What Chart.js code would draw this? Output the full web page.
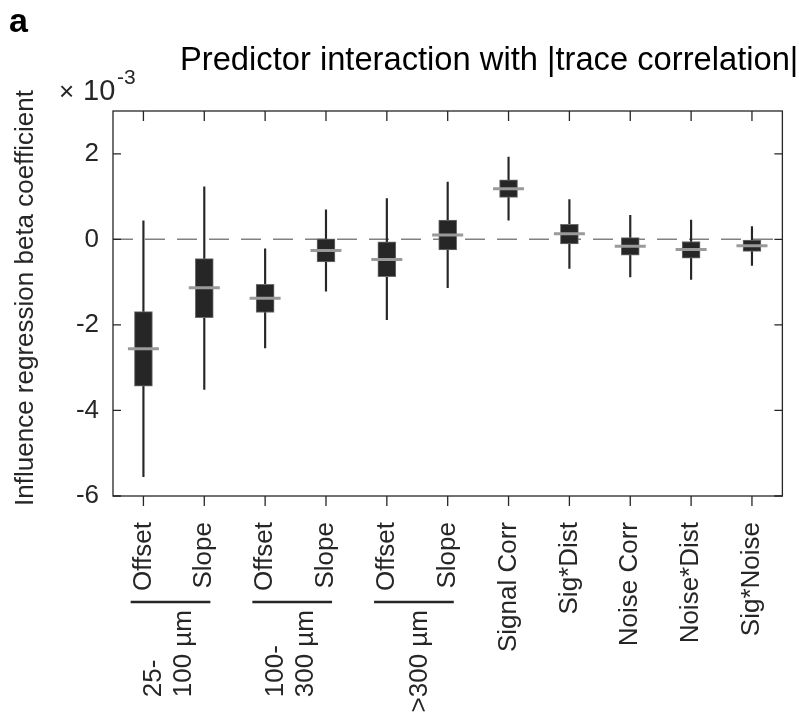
<!DOCTYPE html>
<html>
<head>
<meta charset="utf-8">
<script src="https://cdn.jsdelivr.net/npm/chart.js@4.4.1/dist/chart.umd.min.js"></script>
<style>
  html, body { margin: 0; padding: 0; background: #fff; overflow: hidden; }
  #wrap { width: 810px; height: 713px; position: relative; }
</style>
</head>
<body>
<div id="wrap"><canvas id="chart"></canvas></div>
<script>
// values are in units of 1e-3
const categories = ["Offset", "Slope", "Offset", "Slope", "Offset", "Slope",
  "Signal Corr", "Sig*Dist", "Noise Corr", "Noise*Dist", "Sig*Noise"];
const whiskerLow = [-5.55, -3.51, -2.54, -1.21, -1.88, -1.13, 0.45, -0.68, -0.88, -0.94, -0.61];
const whiskerHigh = [0.43, 1.23, -0.22, 0.69, 0.95, 1.34, 1.92, 0.93, 0.56, 0.45, 0.30];
const boxLow = [-3.43, -1.83, -1.71, -0.53, -0.87, -0.25, 0.98, -0.11, -0.37, -0.44, -0.28];
const boxHigh = [-1.69, -0.45, -1.05, 0.01, -0.06, 0.45, 1.39, 0.35, 0.04, -0.05, -0.02];
const medians = [-2.56, -1.13, -1.38, -0.26, -0.47, 0.10, 1.18, 0.13, -0.16, -0.24, -0.15];
const yTicks = [-6, -4, -2, 0, 2];
const groupLabels = [["25-", "100 µm"], ["100-", "300 µm"], [">300 µm"]];
const groupFirst = [0, 2, 4];

const FONT = "'Liberation Sans', Arial, Helvetica, sans-serif";
const INK = "#262626";

const extras = {
  id: "extras",
  beforeDatasetsDraw(chart) {
    const { ctx, chartArea: a, scales: { y } } = chart;
    const y0 = y.getPixelForValue(0);
    ctx.save();
    ctx.strokeStyle = "#808080";
    ctx.lineWidth = 1.5;
    ctx.setLineDash([20, 12]);
    ctx.beginPath();
    ctx.moveTo(a.left, y0);
    ctx.lineTo(a.right, y0);
    ctx.stroke();
    ctx.restore();
  },
  afterDraw(chart) {
    const { ctx, chartArea: a, scales: { x, y } } = chart;
    ctx.save();
    // axes box + inner/outer ticks
    ctx.strokeStyle = INK;
    ctx.lineWidth = 1.3;
    ctx.strokeRect(a.left, a.top, a.right - a.left, a.bottom - a.top);
    ctx.beginPath();
    categories.forEach((c, i) => {
      const px = x.getPixelForValue(i);
      ctx.moveTo(px, a.bottom); ctx.lineTo(px, a.bottom + 10);
      ctx.moveTo(px, a.top); ctx.lineTo(px, a.top + 10);
    });
    yTicks.forEach(v => {
      const py = y.getPixelForValue(v);
      ctx.moveTo(a.left, py); ctx.lineTo(a.left + 8, py);
      ctx.moveTo(a.right - 8, py); ctx.lineTo(a.right, py);
    });
    ctx.stroke();

    // panel letter
    ctx.fillStyle = "#000";
    ctx.font = "bold 34px " + FONT;
    ctx.textAlign = "left";
    ctx.textBaseline = "alphabetic";
    ctx.fillText("a", 9, 32);
    // title
    ctx.font = "32.7px " + FONT;
    ctx.fillText("Predictor interaction with |trace correlation|", 180, 70);
    // exponent
    ctx.fillStyle = INK;
    ctx.font = "26px " + FONT;
    ctx.fillText("×", 59, 100);
    ctx.font = "29px " + FONT;
    ctx.fillText("10", 83, 100);
    ctx.font = "21px " + FONT;
    ctx.fillText("-3", 117, 84);

    // y label
    ctx.save();
    ctx.translate(33, 298);
    ctx.rotate(-Math.PI / 2);
    ctx.font = "26px " + FONT;
    ctx.textAlign = "center";
    ctx.fillText("Influence regression beta coefficient", 0, 0);
    ctx.restore();

    // distance group brackets
    const step = x.getPixelForValue(1) - x.getPixelForValue(0);
    ctx.font = "26px " + FONT;
    groupLabels.forEach((lines, g) => {
      const x1 = x.getPixelForValue(groupFirst[g]);
      const x2 = x.getPixelForValue(groupFirst[g] + 1);
      ctx.lineWidth = 2.3;
      ctx.beginPath();
      ctx.moveTo(x1 - 0.21 * step, 602);
      ctx.lineTo(x2 + 0.1 * step, 602);
      ctx.stroke();
      const mid = (x1 + x2) / 2;
      const maxW = Math.max(...lines.map(l => ctx.measureText(l).width));
      const startY = 610 + maxW;
      lines.forEach((l, k) => {
        const bx = mid + 10 - 22.5 * (lines.length - 1) + 30 * k;
        ctx.save();
        ctx.translate(bx, startY);
        ctx.rotate(-Math.PI / 2);
        ctx.textAlign = "left";
        ctx.fillText(l, 0, 0);
        ctx.restore();
      });
    });
    ctx.restore();
  }
};

const ctx = document.getElementById("chart");
new Chart(ctx, {
  type: "bar",
  data: {
    labels: categories,
    datasets: [
      {
        type: "line",
        label: "median",
        data: medians,
        showLine: false,
        pointStyle: "line",
        pointRadius: 15.5,
        pointHoverRadius: 15.5,
        pointBorderWidth: 3,
        borderColor: "#9a9a9a",
        order: 0
      },
      {
        label: "box",
        data: boxLow.map((v, i) => [v, boxHigh[i]]),
        backgroundColor: INK,
        borderColor: "#6e6e6e",
        borderWidth: 1,
        borderSkipped: false,
        barThickness: 18,
        grouped: false,
        order: 1
      },
      {
        label: "whisker",
        data: whiskerLow.map((v, i) => [v, whiskerHigh[i]]),
        backgroundColor: INK,
        barThickness: 1.5,
        grouped: false,
        order: 2
      }
    ]
  },
  options: {
    responsive: true,
    maintainAspectRatio: false,
    animation: false,
    layout: { padding: { top: 111, right: 10, left: 0, bottom: 0 } },
    plugins: {
      legend: { display: false },
      tooltip: { enabled: false }
    },
    scales: {
      x: {
        offset: true,
        grid: { display: false, drawTicks: false },
        border: { display: false },
        ticks: {
          autoSkip: false,
          minRotation: 90,
          maxRotation: 90,
          padding: 26,
          color: INK,
          font: { family: FONT, size: 26 }
        },
        afterFit: (s) => { s.height = 217; }
      },
      y: {
        min: -6,
        max: 3,
        grid: { display: false, drawTicks: false },
        border: { display: false },
        afterBuildTicks: (s) => { s.ticks = yTicks.map(v => ({ value: v })); },
        ticks: {
          padding: 14,
          color: INK,
          font: { family: FONT, size: 26 }
        },
        afterFit: (s) => { s.width = 113; }
      }
    }
  },
  plugins: [extras]
});
</script>
</body>
</html>
